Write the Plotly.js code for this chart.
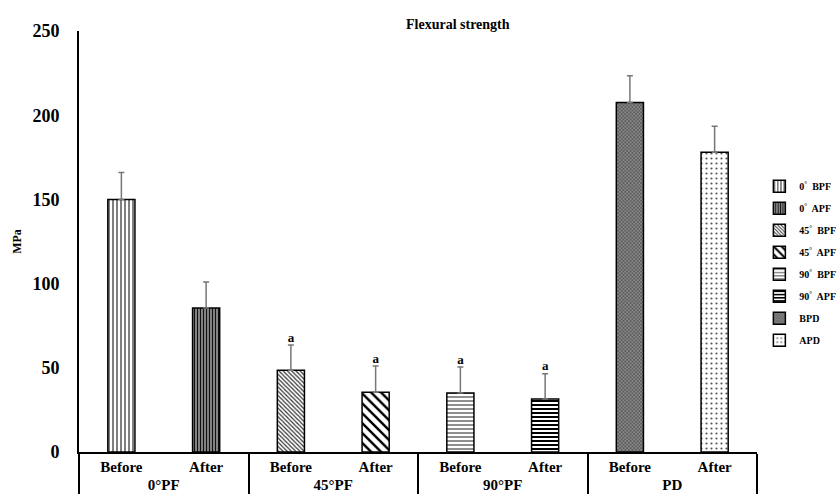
<!DOCTYPE html>
<html>
<head>
<meta charset="utf-8">
<script src="https://cdn.plot.ly/plotly-3.0.1.min.js"></script>
<style>html,body{margin:0;padding:0;background:#fff;}#chart{width:840px;height:502px;}</style>
</head>
<body>
<div id="chart"></div>
<script>
// Data
var groups = ["0°PF", "0°PF", "45°PF", "45°PF", "90°PF", "90°PF", "PD", "PD"];
var phases = ["Before", "After", "Before", "After", "Before", "After", "Before", "After"];
var seriesNames = ["0<sup>°</sup>  BPF", "0<sup>°</sup>  APF", "45<sup>°</sup>  BPF", "45<sup>°</sup>  APF", "90<sup>°</sup>  BPF", "90<sup>°</sup>  APF", "BPD", "APD"];
var values = [150, 85.5, 48.5, 35.5, 35, 31.5, 207.5, 178];
var errors = [16, 15.5, 15, 15.5, 15.5, 15, 16, 15.5];
var letters = ["", "", "a", "a", "a", "a", "", ""];
var yTicks = [0, 50, 100, 150, 200, 250];

var patterns = [
  {shape: "|", size: 4, solidity: 0.25, fgcolor: "#000", bgcolor: "#fff"},
  {shape: "|", size: 3, solidity: 0.45, fgcolor: "#111", bgcolor: "#999"},
  {shape: "\\", size: 3, solidity: 0.4, fgcolor: "#333", bgcolor: "#fff"},
  {shape: "\\", size: 7, solidity: 0.35, fgcolor: "#000", bgcolor: "#fff"},
  {shape: "-", size: 4, solidity: 0.22, fgcolor: "#000", bgcolor: "#fff"},
  {shape: "-", size: 4, solidity: 0.5, fgcolor: "#000", bgcolor: "#fff"},
  {shape: "x", size: 2.5, solidity: 0.5, fgcolor: "#555", bgcolor: "#888"},
  {shape: ".", size: 5, solidity: 0.15, fgcolor: "#555", bgcolor: "#fff"}
];

var FONT = "Liberation Serif, Times New Roman, serif";
var traces = [];
for (var i = 0; i < values.length; i++) {
  traces.push({
    type: "bar",
    name: "<b>" + seriesNames[i] + "</b>",
    legendgroup: "g" + i,
    x: [[groups[i]], [phases[i]]],
    y: [values[i]],
    width: 0.32,
    marker: {color: patterns[i].bgcolor, line: {color: "#000", width: 1.5}, pattern: patterns[i]},
    error_y: {type: "data", symmetric: false, array: [errors[i]], arrayminus: [0], color: "#777", thickness: 1.5, width: 3},
    hoverinfo: "skip"
  });
}
var tx = [[], []], ty = [], tt = [];
for (var j = 0; j < values.length; j++) {
  if (letters[j]) {
    tx[0].push(groups[j]); tx[1].push(phases[j]);
    ty.push(values[j] + errors[j]);
    tt.push("<b>" + letters[j] + "</b>");
  }
}
traces.push({
  type: "scatter", mode: "text", x: tx, y: ty, text: tt,
  textposition: "top center", textfont: {family: FONT, size: 13, color: "#000"},
  showlegend: false, hoverinfo: "skip", cliponaxis: false
});

var layout = {
  width: 840, height: 502,
  margin: {l: 79, r: 83, t: 31, b: 50, pad: 0, autoexpand: false},
  paper_bgcolor: "#fff", plot_bgcolor: "#fff",
  barmode: "overlay",
  showlegend: true,
  title: {text: "<b>Flexural strength</b>", font: {family: FONT, size: 14, color: "#000"}, x: 0.545, xanchor: "center", xref: "container", y: 0.952, yref: "container", yanchor: "middle"},
  xaxis: {
    type: "multicategory",
    showline: true, linecolor: "#000", linewidth: 2,
    showdividers: true, dividercolor: "#000", dividerwidth: 2,
    ticks: "", showgrid: false, zeroline: false,
    tickfont: {family: FONT, size: 15, color: "#000", weight: "bold"},
    automargin: false
  },
  yaxis: {
    range: [0, 250], tickvals: yTicks, ticktext: yTicks.map(function(v){return "<b>" + v + "</b>";}),
    showline: true, linecolor: "#000", linewidth: 2,
    showgrid: false, zeroline: false, ticks: "",
    ticklabelstandoff: 14,
    tickfont: {family: FONT, size: 18, color: "#000"},
    title: {text: "<b>MPa</b>", font: {family: FONT, size: 12, color: "#000"}, standoff: 8},
    automargin: false
  },
  legend: {
    xref: "container", yref: "container",
    x: 0.904, xanchor: "left", y: 0.658, yanchor: "top",
    font: {family: FONT, size: 10, color: "#000"},
    tracegroupgap: 3, bgcolor: "rgba(0,0,0,0)", itemwidth: 30
  }
};

Plotly.newPlot("chart", traces, layout, {displayModeBar: false, staticPlot: true});
</script>
</body>
</html>
